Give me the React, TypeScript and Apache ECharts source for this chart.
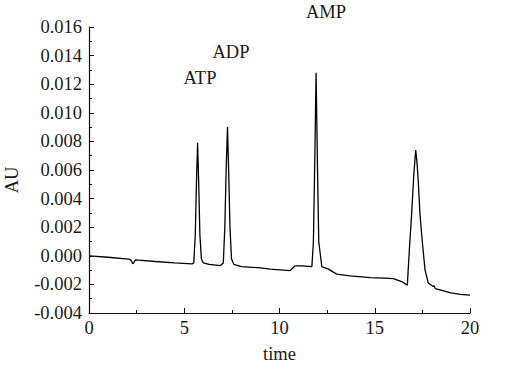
import React, { useEffect, useRef } from "react";
import * as echarts from "echarts";

const times = [
  0, 1.0, 2.09, 2.2, 2.3, 2.44, 2.6, 3.5, 4.5, 5.41,
  5.5, 5.58, 5.64, 5.7, 5.76, 5.82, 5.9, 6.0, 6.3, 6.9,
  7.05, 7.13, 7.2, 7.27, 7.33, 7.4, 7.48, 7.6, 8.0, 9.0,
  9.51, 10.56, 10.82, 11.17, 11.7, 11.78, 11.85, 11.92, 11.99,
  12.06, 12.22, 12.57, 13.0, 13.7, 14.75, 15.5, 15.98, 16.41, 16.71,
  16.82, 16.94, 17.05, 17.15, 17.22, 17.28, 17.37, 17.45, 17.52, 17.64,
  17.81, 18.07, 18.12, 18.18, 18.42, 19.0, 19.5, 20.0,
];
const absorbance = [
  0.0, -0.0001, -0.00023, -0.0003, -0.00056, -0.00028, -0.0003, -0.0004, -0.0005, -0.00056,
  -0.0005, 0.0015, 0.005, 0.0079, 0.005, 0.0015, -0.0002, -0.0005, -0.0006, -0.00068,
  -0.0005, 0.002, 0.006, 0.009, 0.006, 0.002, -0.0002, -0.0006, -0.00075, -0.00085,
  -0.00093, -0.00103, -0.0007, -0.0007, -0.00075, 0.001, 0.0065, 0.0128, 0.0065,
  0.001, -0.00075, -0.00093, -0.00128, -0.0014, -0.00152, -0.00156, -0.0016, -0.0018, -0.00205,
  0.0005, 0.003, 0.0057, 0.0074, 0.0065, 0.0053, 0.003, 0.0017, 0.00065, -0.001,
  -0.0019, -0.00215, -0.0021, -0.0023, -0.00238, -0.0026, -0.0027, -0.00275,
];
const peakLabels = ["ATP", "ADP", "AMP"];
const peakLabelPos = [
  [200, 87],
  [231, 61],
  [326, 21],
];

const FONT = "Liberation Serif";
const TXT = "#1a1a1a";

export default function App() {
  const ref = useRef<HTMLDivElement>(null);
  useEffect(() => {
    if (!ref.current) return;
    const chart = echarts.init(ref.current, null, { renderer: "svg" });
    chart.setOption({
      animation: false,
      backgroundColor: "#ffffff",
      textStyle: { fontFamily: FONT, color: TXT },
      grid: { left: 89, right: 45, top: 27, bottom: 60 },
      xAxis: {
        type: "value",
        min: 0,
        max: 20,
        interval: 5,
        name: "time",
        nameLocation: "middle",
        nameGap: 31,
        nameTextStyle: { fontFamily: FONT, fontSize: 18.5, color: TXT },
        axisLine: { onZero: false, lineStyle: { color: "#111", width: 1.2 } },
        axisTick: { inside: true, length: 5, lineStyle: { color: "#111" } },
        minorTick: { show: true, splitNumber: 2, length: 3, lineStyle: { color: "#111" } },
        splitLine: { show: false },
        axisLabel: { fontFamily: FONT, fontSize: 18.5, color: TXT, margin: 5 },
      },
      yAxis: {
        type: "value",
        min: -0.004,
        max: 0.016,
        interval: 0.002,
        axisLine: { show: true, onZero: false, lineStyle: { color: "#111", width: 1.2 } },
        axisTick: { show: true, inside: true, length: 5, lineStyle: { color: "#111" } },
        minorTick: { show: true, splitNumber: 2, length: 3, lineStyle: { color: "#111" } },
        splitLine: { show: false },
        axisLabel: {
          fontFamily: FONT,
          fontSize: 18.5,
          color: TXT,
          margin: 7,
          formatter: (v: number) => (Math.abs(v) < 1e-9 ? "0.000" : v.toFixed(3)),
        },
      },
      graphic: [
        {
          type: "text",
          x: 12,
          y: 180,
          rotation: Math.PI / 2,
          style: {
            text: "AU",
            fontFamily: FONT,
            fontSize: 18.5,
            fill: TXT,
            align: "center",
            verticalAlign: "middle",
          },
        },
        ...peakLabels.map((t, i) => ({
          type: "text",
          x: peakLabelPos[i][0],
          y: peakLabelPos[i][1],
          style: {
            text: t,
            fontFamily: FONT,
            fontSize: 18.5,
            fill: TXT,
            align: "center",
            verticalAlign: "bottom",
          },
        })),
      ],
      series: [
        {
          type: "line",
          data: times.map((t, i) => [t, absorbance[i]]),
          showSymbol: false,
          symbol: "none",
          smooth: false,
          lineStyle: { color: "#000", width: 1.3 },
        },
      ],
    });
    return () => chart.dispose();
  }, []);
  return (
    <div
      ref={ref}
      style={{ width: 515, height: 373, position: "fixed", left: 0, top: 0 }}
    />
  );
}
